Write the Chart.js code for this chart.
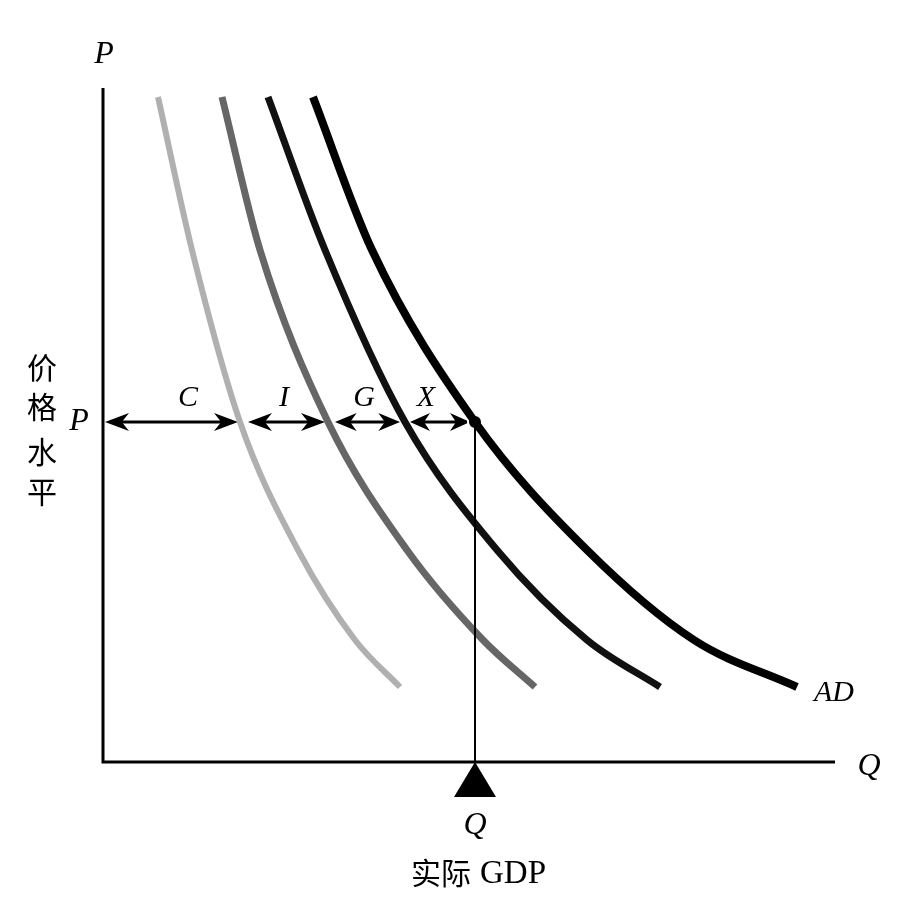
<!DOCTYPE html>
<html>
<head>
<meta charset="utf-8">
<script src="https://cdn.jsdelivr.net/npm/chart.js@4.4.1/dist/chart.umd.min.js"></script>
<style>
    body { margin: 0; background: #fff; }
    #chart { display: block; }
</style>
</head>
<body>
<canvas id="chart" width="898" height="897"></canvas>
<script>
// curves: C, C+I, C+I+G, C+I+G+X (= AD)
var curveC = [[55, 665], [89, 512], [137, 340], [195, 212], [252, 122], [297, 75]];
var curveCI = [[119, 665], [157, 512], [225, 340], [304, 212], [380, 122], [432, 75]];
var curveCIG = [[165, 665], [222, 512], [302, 340], [394, 212], [484, 122], [557, 75]];
var curveAD = [[210, 665], [269, 512], [372, 340], [484, 212], [591, 122], [694, 75]];

var priceLevel = 340;
var realGdp = 372;

// arrow spans along the price line
var spanLabels = ["C", "I", "G", "X"];
var spanStarts = [2, 145, 232, 307];
var spanEnds = [135, 222, 297, 367];

var xMax = 732;
var yMax = 674;

function toPoints(arr) {
    return arr.map(function(p) {
        return { x: p[0], y: p[1] };
    });
}

function curve(data, color, width) {
    return {
        data: toPoints(data),
        showLine: true,
        borderColor: color,
        borderWidth: width,
        borderCapStyle: 'butt',
        cubicInterpolationMode: 'monotone',
        pointRadius: 0,
        fill: false
    };
}

function arrowHead(ctx, x, y, dir, len, half) {
    ctx.beginPath();
    ctx.moveTo(x, y);
    ctx.lineTo(x - dir * len, y - half);
    ctx.lineTo(x - dir * len * 0.7, y);
    ctx.lineTo(x - dir * len, y + half);
    ctx.closePath();
    ctx.fill();
}

var drawExtras = {
    id: 'drawExtras',
    beforeDatasetsDraw: function(chart) {
        var ctx = chart.ctx;
        var sx = chart.scales.x;
        var sy = chart.scales.y;
        var x0 = sx.getPixelForValue(0);
        var y0 = sy.getPixelForValue(0);
        ctx.save();
        ctx.strokeStyle = '#000';
        ctx.lineWidth = 3;
        ctx.beginPath();
        ctx.moveTo(x0, sy.getPixelForValue(yMax));
        ctx.lineTo(x0, y0);
        ctx.lineTo(sx.getPixelForValue(xMax), y0);
        ctx.stroke();

        // arrows on the price line
        var py = sy.getPixelForValue(priceLevel);
        ctx.fillStyle = '#000';
        ctx.lineWidth = 3;
        for (var i = 0; i < spanStarts.length; i++) {
            var a = sx.getPixelForValue(spanStarts[i]);
            var b = sx.getPixelForValue(spanEnds[i]);
            var len = Math.min(24, (b - a) / 3);
            ctx.beginPath();
            ctx.moveTo(a + 5, py);
            ctx.lineTo(b - 5, py);
            ctx.stroke();
            arrowHead(ctx, a, py, -1, len, 9);
            arrowHead(ctx, b, py, 1, len, 9);
        }
        ctx.restore();
    },
    afterDraw: function(chart) {
        var ctx = chart.ctx;
        var sx = chart.scales.x;
        var sy = chart.scales.y;
        var qx = sx.getPixelForValue(realGdp);
        var y0 = sy.getPixelForValue(0);
        ctx.save();
        // triangle marker under Q
        ctx.fillStyle = '#000';
        ctx.beginPath();
        ctx.moveTo(qx, y0);
        ctx.lineTo(qx - 21, y0 + 35);
        ctx.lineTo(qx + 21, y0 + 35);
        ctx.closePath();
        ctx.fill();

        ctx.textAlign = 'center';
        ctx.textBaseline = 'middle';
        ctx.font = 'italic 32px "Liberation Serif"';
        ctx.fillText('P', 104, 55);
        ctx.fillText('P', 79, 422);
        ctx.fillText('Q', 869, 767);
        ctx.fillText('Q', qx, 826);
        ctx.font = 'italic 30px "Liberation Serif"';
        ctx.fillText('AD', 834, 693);
        var py = sy.getPixelForValue(priceLevel);
        var labelX = [188, 284, 364, 426];
        for (var i = 0; i < spanLabels.length; i++) {
            ctx.fillText(spanLabels[i], labelX[i], py - 24);
        }

        ctx.font = '30px "Noto Sans CJK SC"';
        var chars = ['价', '格', '水', '平'];
        var cy = [368, 407, 452, 492];
        for (var j = 0; j < chars.length; j++) {
            ctx.fillText(chars[j], 42, cy[j]);
        }
        ctx.textAlign = 'right';
        ctx.fillText('实际', 471, 873);
        ctx.textAlign = 'left';
        ctx.font = '33px "Liberation Serif"';
        ctx.fillText('GDP', 480, 874);
        ctx.restore();
    }
};

var ctx = document.getElementById('chart');
new Chart(ctx, {
    type: 'scatter',
    data: {
        datasets: [
            {
                data: [{ x: realGdp, y: 0 }, { x: realGdp, y: priceLevel }],
                showLine: true,
                borderColor: '#000',
                borderWidth: 2,
                pointRadius: 0
            },
            curve(curveC, '#b0b0b0', 6),
            curve(curveCI, '#666666', 7),
            curve(curveCIG, '#111111', 7),
            curve(curveAD, '#000000', 8),
            {
                data: [{ x: realGdp, y: priceLevel }],
                pointRadius: 7,
                pointBackgroundColor: '#000',
                pointBorderColor: '#fff',
                pointBorderWidth: 2
            }
        ]
    },
    options: {
        responsive: false,
        animation: false,
        clip: false,
        layout: {
            padding: { left: 103, top: 88, right: 63, bottom: 135 }
        },
        plugins: {
            legend: { display: false },
            tooltip: { enabled: false }
        },
        scales: {
            x: { type: 'linear', min: 0, max: xMax, display: false },
            y: { type: 'linear', min: 0, max: yMax, display: false }
        }
    },
    plugins: [drawExtras]
});
</script>
</body>
</html>
